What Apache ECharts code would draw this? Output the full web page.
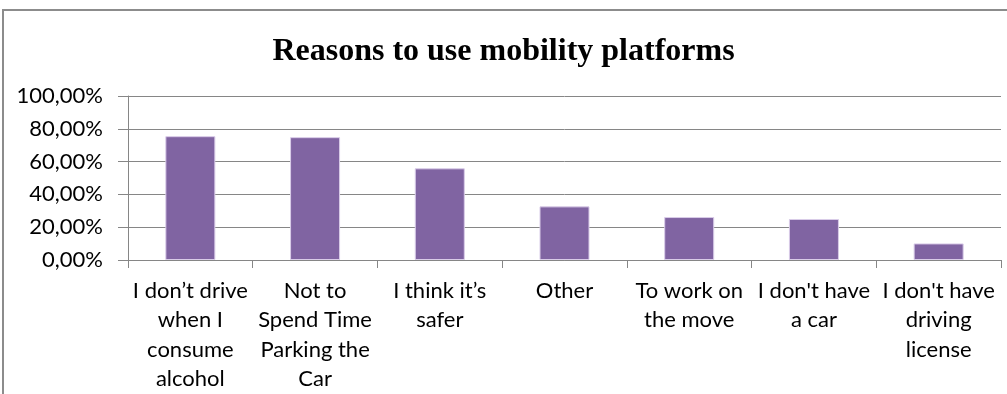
<!DOCTYPE html>
<html>
<head>
<meta charset="utf-8">
<script src="https://cdn.jsdelivr.net/npm/echarts@6/dist/echarts.min.js"></script>
<style>
  html, body { margin: 0; padding: 0; background: #ffffff; }
  #chart { width: 1007px; height: 394px; }
</style>
</head>
<body>
<div id="chart"></div>
<script>
// Survey answers: share of respondents citing each reason
const categories = [
  'I don\u2019t drive\nwhen I\nconsume\nalcohol',
  'Not to\nSpend Time\nParking the\nCar',
  'I think it\u2019s\nsafer',
  'Other',
  'To work on\nthe move',
  "I don't have\na car",
  "I don't have\ndriving\nlicense"
];
const shares = [0.755, 0.749, 0.559, 0.327, 0.262, 0.250, 0.101];
const yTicks = { min: 0, max: 1, step: 0.2 };

const labelFont = 'Lato, "Open Sans", sans-serif';
const chart = echarts.init(document.getElementById('chart'), null, { renderer: 'canvas' });

chart.setOption({
  animation: false,
  backgroundColor: '#ffffff',
  title: {
    text: 'Reasons to use mobility platforms',
    left: 'center',
    top: 31,
    textStyle: {
      fontFamily: '"Liberation Serif", "Times New Roman", serif',
      fontWeight: 'bold',
      fontSize: 32,
      color: '#000000'
    }
  },
  graphic: [{
    type: 'polyline',
    shape: { points: [[3, 400], [3, 10], [1010, 10]] },
    style: { stroke: '#8c8c8c', lineWidth: 2, fill: null },
    silent: true
  }],
  grid: { left: 128, right: 6, top: 96, bottom: 126, containLabel: false },
  xAxis: {
    type: 'category',
    data: categories,
    boundaryGap: true,
    axisLine: { lineStyle: { color: '#868686', width: 1 } },
    axisTick: { show: true, length: 8, alignWithLabel: false, lineStyle: { color: '#868686' } },
    axisLabel: {
      interval: 0,
      margin: 16,
      fontFamily: labelFont,
      fontSize: 22,
      lineHeight: 29.5,
      color: '#000000'
    }
  },
  yAxis: {
    type: 'value',
    min: yTicks.min,
    max: yTicks.max,
    interval: yTicks.step,
    axisLine: { show: true, lineStyle: { color: '#868686', width: 1 } },
    axisTick: { show: true, length: 10, lineStyle: { color: '#868686' } },
    splitLine: { show: true, lineStyle: { color: '#868686', width: 1 } },
    axisLabel: {
      margin: 25,
      fontFamily: labelFont,
      fontSize: 22,
      color: '#000000',
      formatter: v => (v * 100).toFixed(2).replace('.', ',') + '%'
    }
  },
  series: [{
    type: 'bar',
    data: shares,
    barWidth: 50,
    itemStyle: { color: '#8064A2', borderColor: '#d9cce8', borderWidth: 1 }
  }]
});
</script>
</body>
</html>
